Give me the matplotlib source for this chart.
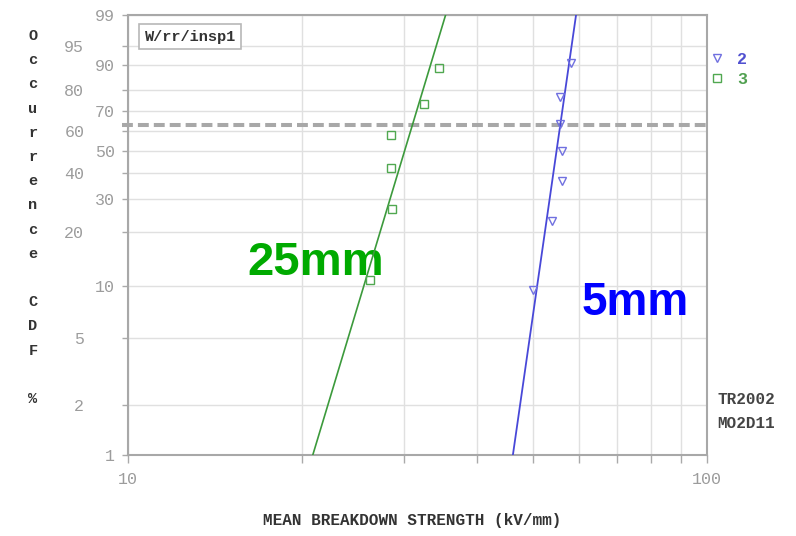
import numpy as np
import matplotlib
matplotlib.use("Agg")
import matplotlib.pyplot as plt
from matplotlib.ticker import FixedLocator, FixedFormatter, NullFormatter

# breakdown strengths (kV/mm) and plotting positions (% CDF)
strength_5mm = [50.0, 54.0, 56.1, 56.1, 55.8, 55.8, 58.2]
cdf_5mm = [9.5, 23.0, 36.5, 50.0, 63.5, 77.0, 90.5]
strength_25mm = [26.2, 28.6, 28.5, 28.5, 32.4, 34.4]
cdf_25mm = [10.9, 26.6, 42.2, 57.8, 73.4, 89.1]

# fitted Weibull parameters (scale alpha, shape beta)
fit_5mm = (55.8, 24.4)
fit_25mm = (31.0, 11.6)

y_major = [1, 10, 30, 50, 70, 90, 99]
y_minor = [2, 5, 20, 40, 60, 80, 95]
x_minor = [20, 30, 40, 50, 60, 70, 80, 90]

MONO = "Liberation Mono"
W, H = 796, 536


def weib(p):
    p = np.clip(np.asarray(p, dtype=float) / 100.0, 1e-9, 1 - 1e-9)
    return np.log(-np.log(1 - p))


def weib_inv(y):
    return 100.0 * (1 - np.exp(-np.exp(np.asarray(y, dtype=float))))


def fit_line(alpha, beta):
    # straight line on Weibull paper between the 1% and 99% levels
    p = np.array([1.0, 99.0])
    x = alpha * np.exp(weib(p) / beta)
    return x, p


def px(x, y):
    # pixel position (from top-left) -> figure fraction
    return x / W, 1 - y / H


fig = plt.figure(figsize=(W / 100, H / 100), dpi=100)
ax = fig.add_axes([128 / W, 1 - 455 / H, 579 / W, 440 / H])

ax.set_xscale("log")
ax.set_yscale("function", functions=(weib, weib_inv))
ax.set_xlim(10, 100)
ax.set_ylim(1, 99)

ax.xaxis.set_major_locator(FixedLocator([10, 100]))
ax.xaxis.set_major_formatter(FixedFormatter(["10", "100"]))
ax.xaxis.set_minor_locator(FixedLocator(x_minor))
ax.xaxis.set_minor_formatter(NullFormatter())

ax.yaxis.set_major_locator(FixedLocator(y_major))
ax.yaxis.set_major_formatter(FixedFormatter([str(v) for v in y_major]))
ax.yaxis.set_minor_locator(FixedLocator(y_minor))
ax.yaxis.set_minor_formatter(FixedFormatter([str(v) for v in y_minor]))

ax.grid(which="both", color="#e0e0e0", lw=1.0)
ax.set_axisbelow(True)
for s in ax.spines.values():
    s.set_color("#a8a8a8")
    s.set_linewidth(1.5)

ax.tick_params(axis="both", which="both", colors="#aaaaaa", labelcolor="#9c9c9c",
               labelsize=12, width=1.0)
ax.tick_params(axis="y", which="both", length=4.5)
ax.tick_params(axis="y", which="major", pad=5)
ax.tick_params(axis="y", which="minor", pad=27)
ax.tick_params(axis="x", which="both", length=6, pad=6)
for lab in ax.get_xticklabels() + ax.get_yticklabels() + ax.get_yticklabels(minor=True):
    lab.set_family(MONO)

# characteristic (63.2 %) level
ax.axhline(63.2, xmin=-0.01, xmax=1.0, color="#a8a8a8", lw=2.9,
           linestyle=(0, (2.7, 1.25)), clip_on=False, zorder=2)

# size annotations, kept underneath the fit lines
ax.text(*px(247, 275), "25mm", transform=fig.transFigure, ha="left", va="baseline",
        family="Liberation Sans", weight="bold", size=34, color="#00aa00", zorder=2.5)
ax.text(*px(582, 315), "5mm", transform=fig.transFigure, ha="left", va="baseline",
        family="Liberation Sans", weight="bold", size=33, color="#0000ff", zorder=2.5)

# fitted lines
x5, p5 = fit_line(*fit_5mm)
x25, p25 = fit_line(*fit_25mm)
ax.plot(x5, p5, color="#4848d8", lw=1.3, zorder=3)
ax.plot(x25, p25, color="#3c9a3c", lw=1.2, zorder=3)

# data points
h2, = ax.plot(strength_5mm, cdf_5mm, ls="none", marker="v", ms=6,
              mfc="none", mec="#7070e0", mew=1.0, zorder=4)
h3, = ax.plot(strength_25mm, cdf_25mm, ls="none", marker="s", ms=5.5,
              mfc="none", mec="#50a850", mew=1.0, zorder=4)

ax.legend([h2, h3], ["2", "3"], loc="upper left", bbox_to_anchor=(0.989, 0.935),
          frameon=False, borderpad=0, handlelength=1.0, handletextpad=0.7,
          labelspacing=0.3, labelcolor=["#5050d0", "#50a050"],
          prop={"family": MONO, "weight": "bold", "size": 12})

ax.text(0.029, 0.951, "W/rr/insp1", transform=ax.transAxes, ha="left", va="center",
        family=MONO, weight="bold", size=11, color="#333333",
        bbox=dict(boxstyle="square,pad=0.35", fc="white", ec="#b8b8b8", lw=1.2),
        zorder=5)

# run codes on the right
fig.text(*px(717, 399), "TR2002", ha="left", va="center",
         family=MONO, weight="bold", size=11.5, color="#444444")
fig.text(*px(717, 423), "MO2D11", ha="left", va="center",
         family=MONO, weight="bold", size=11.5, color="#444444")

# axis titles
fig.text(*px(412, 521), "MEAN BREAKDOWN STRENGTH (kV/mm)", ha="center",
         va="center", family=MONO, weight="bold", size=11.5, color="#333333")
for i, ch in enumerate("Occurrence CDF %"):
    if ch == " ":
        continue
    fig.text(*px(33, 36 + 24.2 * i), ch, ha="center", va="center",
             family=MONO, weight="bold", size=11, color="#333333")

fig.savefig("out.png", dpi=100)
